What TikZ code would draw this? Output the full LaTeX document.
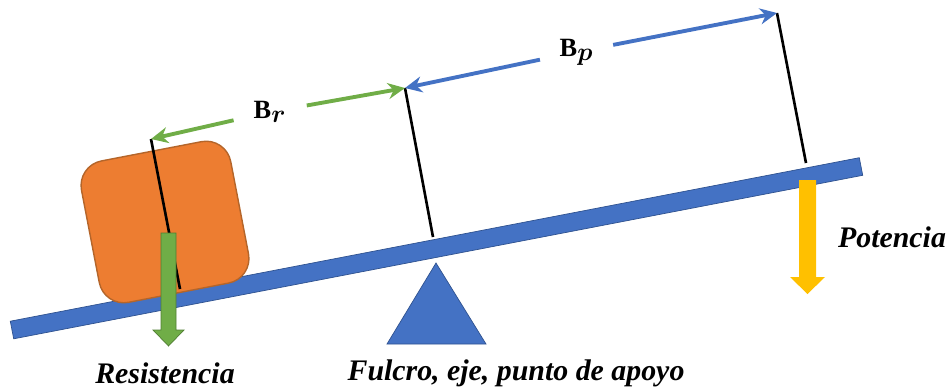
\documentclass[tikz,border=0pt]{standalone}
\usepackage{amsmath,amssymb}
\usepackage{fontspec}
\setmainfont{Liberation Serif}
\usetikzlibrary{arrows.meta,positioning,calc}
\definecolor{beamblue}{HTML}{4472C4}
\definecolor{beamedge}{HTML}{2F528F}
\definecolor{boxorange}{HTML}{ED7D31}
\definecolor{boxedge}{HTML}{B4652A}
\definecolor{forcegreen}{HTML}{70AD47}
\definecolor{greenedge}{HTML}{507E32}
\definecolor{forceyellow}{HTML}{FFC000}

\begin{document}
\begin{tikzpicture}[
  x=0.02cm, y=-0.02cm,
  arm/.style={line width=1.5pt, black},
  dimarr/.style={-{Stealth[length=3.4mm, width=3.2mm]}, line width=2.2pt},
  dimlabel/.style={circle, minimum size=1.48cm, inner sep=0pt, font=\fontsize{15}{17}\selectfont},
  partname/.style={inner sep=0pt, font=\fontsize{17}{20}\selectfont\bfseries\itshape},
]
  \useasboundingbox (0,0) rectangle (951,390);

  % beam
  \coordinate (beamlt) at (10.3,321.2);
  \coordinate (beamlb) at (13.7,338.8);
  \coordinate (beamrb) at (862.7,175.3);
  \coordinate (beamrt) at (859.3,157.7);
  \filldraw[fill=beamblue, draw=beamedge, line width=0.4pt] (beamlt) -- (beamlb) -- (beamrb) -- (beamrt) -- cycle;

  % fulcrum
  \coordinate (pivapex) at (436,263);
  \coordinate (pivleft) at (387,344);
  \coordinate (pivright) at (486,344);
  \filldraw[fill=beamblue, draw=beamedge, line width=0.4pt] (pivapex) -- (pivright) -- (pivleft) -- cycle;

  % load
  \node[draw=boxedge, fill=boxorange, line width=0.8pt, rounded corners=0.5cm,
        minimum width=3.04cm, minimum height=2.88cm, rotate=10.9] (load) at (165,222) {};

  % lever arms
  \coordinate (loadfoot) at (180,289);
  \coordinate (loadtop) at (151,139);
  \coordinate (pivfoot) at (433,237);
  \coordinate (pivtop) at (405,88);
  \coordinate (potfoot) at (806,163);
  \coordinate (pottop) at (777,13);
  \draw[arm] (loadfoot) -- (loadtop);
  \draw[arm] (pivfoot) -- (pivtop);
  \draw[arm] (potfoot) -- (pottop);

  % distances
  \node[dimlabel] (br) at (270,112) {$\mathbf{B}_{\textstyle\boldsymbol{r}}$};
  \node[dimlabel] (bp) at (576.5,52) {$\mathbf{B}_{\textstyle\boldsymbol{p}}$};
  \draw[dimarr, forcegreen] (br) -- (loadtop);
  \draw[dimarr, forcegreen] (br) -- (pivtop);
  \draw[dimarr, beamblue] (bp) -- (pivtop);
  \draw[dimarr, beamblue] (bp) -- (pottop);

  % forces
  \filldraw[fill=forcegreen, draw=greenedge, line width=0.4pt] (161,233) -- (176,233) -- (176,330)
    -- (184,330) -- (168.5,346) -- (153,330) -- (161,330) -- cycle;
  \fill[forceyellow] (799,180) -- (816,180) -- (816,277) -- (825,277) -- (807.5,294)
    -- (790,277) -- (799,277) -- cycle;

  % names
  \node[partname] (res) at (165,373) {Resistencia};
  \node[partname] (ful) at (516,373) {Fulcro, eje, punto de apoyo};
  \node[partname] (pot) at (892,237) {Potencia};
\end{tikzpicture}
\end{document}
